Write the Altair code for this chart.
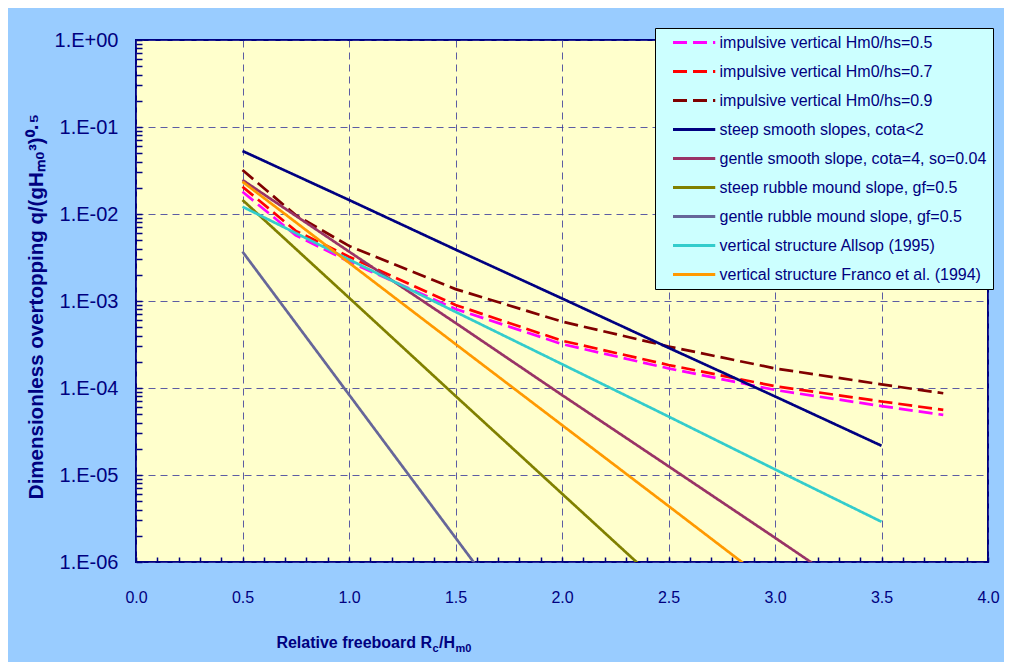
import altair as alt
import pandas as pd

# ---------------- data ----------------
series_names = [
    "impulsive vertical Hm0/hs=0.5",
    "impulsive vertical Hm0/hs=0.7",
    "impulsive vertical Hm0/hs=0.9",
    "steep smooth slopes, cota<2",
    "gentle smooth slope, cota=4, so=0.04",
    "steep rubble mound slope, gf=0.5",
    "gentle rubble mound slope, gf=0.5",
    "vertical structure Allsop (1995)",
    "vertical structure Franco et al. (1994)",
]
series_colors = ["#FF00FF", "#FF0000", "#800000", "#000080", "#993366",
                 "#808000", "#666699", "#33CCCC", "#FF9900"]
series_dashes = [[14, 6], [14, 6], [14, 6], [1, 0], [1, 0],
                 [1, 0], [1, 0], [1, 0], [1, 0]]

imp_x = [0.5, 0.75, 1.0, 1.5, 2.0, 2.5, 3.0, 3.5, 3.79]
imp05_y = [1.80e-2, 5.7e-3, 2.83e-3, 8.1e-4, 3.2e-4, 1.68e-4, 9.5e-5, 6.2e-5, 4.9e-5]
imp07_y = [2.06e-2, 6.4e-3, 3.23e-3, 9.0e-4, 3.5e-4, 1.84e-4, 1.05e-4, 7.0e-5, 5.6e-5]
imp09_y = [3.2e-2, 9.7e-3, 4.3e-3, 1.37e-3, 5.8e-4, 3.0e-4, 1.68e-4, 1.10e-4, 8.7e-5]

steep_smooth_x = [0.5, 1.0, 1.5, 2.0, 2.5, 3.0, 3.5]
steep_smooth_y = [0.053, 0.0145, 3.9e-3, 1.07e-3, 2.9e-4, 8.0e-5, 2.17e-5]

gentle_smooth_x = [0.5, 1.0, 1.5, 2.0, 2.5, 3.0, 3.5]
gentle_smooth_y = [0.0246, 3.7e-3, 5.6e-4, 8.3e-5, 1.26e-5, 1.9e-6, 2.8e-7]

steep_rubble_x = [0.5, 1.0, 1.5, 2.0, 2.5]
steep_rubble_y = [0.0145, 1.09e-3, 8.1e-5, 6.1e-6, 4.6e-7]

gentle_rubble_x = [0.5, 1.0, 1.5, 2.0]
gentle_rubble_y = [3.69e-3, 8.4e-5, 1.9e-6, 4.3e-8]

allsop_x = [0.5, 1.0, 1.5, 2.0, 2.5, 3.0, 3.5]
allsop_y = [0.01213, 3.0e-3, 7.5e-4, 1.88e-4, 4.7e-5, 1.16e-5, 2.9e-6]

franco_x = [0.5, 1.0, 1.5, 2.0, 2.5, 3.0]
franco_y = [0.0235, 2.75e-3, 3.2e-4, 3.75e-5, 4.4e-6, 5.1e-7]

x_major = [0.0, 0.5, 1.0, 1.5, 2.0, 2.5, 3.0, 3.5, 4.0]
x_minor = [round(i * 0.1, 1) for i in range(41)]
y_major = [1e-6, 1e-5, 1e-4, 1e-3, 1e-2, 1e-1, 1.0]
y_minor = [m * 10.0 ** k for k in range(-6, 0) for m in range(1, 10)] + [1.0]

# ---------------- long table ----------------
pairs = [
    (imp_x, imp05_y), (imp_x, imp07_y), (imp_x, imp09_y),
    (steep_smooth_x, steep_smooth_y), (gentle_smooth_x, gentle_smooth_y),
    (steep_rubble_x, steep_rubble_y), (gentle_rubble_x, gentle_rubble_y),
    (allsop_x, allsop_y), (franco_x, franco_y),
]
rows = []
for name, (xs, ys) in zip(series_names, pairs):
    for xv, yv in zip(xs, ys):
        rows.append({"series": name, "x": xv, "y": yv})
df = pd.DataFrame(rows)

NAVY = "#000080"
FONT = "Liberation Sans"
W, H = 852, 522

xscale = alt.Scale(domain=[0, 4], nice=False, zero=False)
yscale = alt.Scale(type="log", domain=[1e-6, 1], nice=False)

legend = alt.Legend(title=None, orient="none", legendX=519, legendY=-12)

lines = alt.Chart(df).mark_line(clip=True, strokeWidth=2.7).encode(
    x=alt.X("x:Q", scale=xscale, axis=alt.Axis(
        orient="bottom", values=x_major, format=".1f", title=None,
        grid=True, gridColor="#333399", gridDash=[7, 5], gridWidth=1, gridOpacity=0.8,
        ticks=False, tickSize=0, domain=False, labelFlush=False, labelOverlap=False,
        labelFont=FONT, labelFontSize=16, labelColor=NAVY,
        labelPadding=27)),
    y=alt.Y("y:Q", scale=yscale, axis=alt.Axis(
        orient="left", values=y_major,
        labelExpr="'1.E' + (datum.value >= 1 ? '+00' : '-0' + round(-log(datum.value)/LN10))",
        grid=True, gridColor="#333399", gridDash=[7, 5], gridWidth=1, gridOpacity=0.8,
        ticks=False, tickSize=0, domain=False, labelOverlap=False,
        labelFont=FONT, labelFontSize=20, labelColor=NAVY, labelPadding=18,
        title="Dimensionless overtopping q/(gHₘ₀³)⁰·⁵",
        titleFont=FONT, titleFontSize=20.5, titleFontWeight="bold",
        titleColor=NAVY, titleAngle=270, titleBaseline="alphabetic",
        titleAlign="center", titleX=-94, titleY=266)),
    color=alt.Color("series:N", sort=series_names,
                    scale=alt.Scale(domain=series_names, range=series_colors),
                    legend=legend),
    strokeDash=alt.StrokeDash("series:N", sort=series_names,
                              scale=alt.Scale(domain=series_names, range=series_dashes),
                              legend=legend),
)

ticks_layer = alt.Chart(df).mark_point(opacity=0).encode(
    x=alt.X("x:Q", scale=xscale, axis=alt.Axis(
        orient="top", offset=-H, values=x_minor, labels=False, grid=False,
        domain=False, ticks=True, tickSize=5, tickWidth=1.5, tickColor=NAVY, title=None)),
    y=alt.Y("y:Q", scale=yscale, axis=alt.Axis(
        orient="right", offset=-W, values=y_minor, labels=False, grid=False,
        domain=False, ticks=True, tickSize=6, tickWidth=1.5, tickColor=NAVY, title=None)),
)

# x-axis title with real subscripts, assembled from pieces
tdf = pd.DataFrame({"k": [0]})
def piece(txt, size, x, y, align):
    return alt.Chart(tdf).mark_text(
        text=txt, font=FONT, fontSize=size, fontWeight="bold", color=NAVY,
        align=align, baseline="alphabetic").encode(x=alt.value(x), y=alt.value(y))

t_main = piece("Relative freeboard R", 16, 296, 608, "right")
t_c = piece("c", 11, 296.5, 612, "left")
t_h = piece("/H", 16, 303, 608, "left")
t_m = piece("m0", 11, 319.5, 612, "left")

chart = alt.layer(lines, ticks_layer, t_main, t_c, t_h, t_m).resolve_axis(
    x="independent", y="independent"
).properties(
    width=W, height=H,
    autosize=alt.AutoSizeParams(type="none"),
    padding={"left": 128, "top": 32, "right": 16, "bottom": 100},
    background="#99CCFF",
).configure_view(
    fill="#FFFFCC", stroke=NAVY, strokeWidth=2,
).configure_legend(
    fillColor="#CCFFFF", strokeColor="#000000", padding=6.5, rowPadding=13,
    symbolType="M-1,0H5.5", symbolSize=169, symbolStrokeWidth=3,
    symbolOffset=10, labelOffset=32, labelFont=FONT,
    labelFontSize=16, labelColor=NAVY, labelLimit=400,
)

chart.save("out.html", embed_options={"renderer": "svg", "actions": False})
